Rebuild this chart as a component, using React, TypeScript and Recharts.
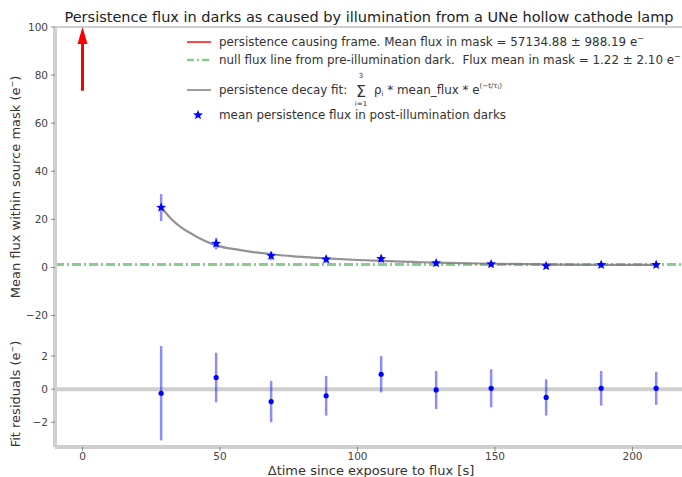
import {
  ComposedChart,
  Line,
  Scatter,
  XAxis,
  YAxis,
  ErrorBar,
  ReferenceLine,
} from "recharts";

// post-illumination darks (seconds since exposure)
const times = [28.6, 48.6, 68.6, 88.6, 108.6, 128.6, 148.6, 168.6, 188.6, 208.6];
const meanFlux = [24.9, 9.9, 4.8, 3.4, 3.6, 1.8, 1.4, 0.6, 1.1, 1.1];
const fluxErr = [5.6, 2.4, 1.8, 1.5, 1.5, 1.3, 1.3, 1.2, 1.2, 1.2];
const residuals = [-0.25, 0.7, -0.75, -0.4, 0.9, -0.05, 0.05, -0.5, 0.05, 0.05];
const residErr = [2.85, 1.5, 1.25, 1.2, 1.1, 1.15, 1.15, 1.1, 1.05, 1.0];

// decay fit curve
const fitTimes = [28.6, 32, 36, 40, 44, 48.6, 56, 62, 68.6, 76, 88.6, 100, 108.6, 120, 128.6, 148.6, 168.6, 188.6, 208.6];
const fitFlux = [25.15, 20.5, 16.6, 13.8, 11.3, 9.2, 7.5, 6.4, 5.55, 4.7, 3.8, 3.1, 2.7, 2.3, 2.0, 1.55, 1.25, 1.1, 1.05];

const nullFlux = 1.22;
const arrowX = 0;
const arrowFrom = 73.5;
const arrowTo = 100;

const xTicks = [0, 50, 100, 150, 200];
const topTicks = [-20, 0, 20, 40, 60, 80, 100];
const bottomTicks = [-2, 0, 2];

const xDomain: [number, number] = [-10, 218];

const pointData = times.map((t, i) => ({ t, flux: meanFlux[i], err: fluxErr[i] }));
const residData = times.map((t, i) => ({ t, res: residuals[i], err: residErr[i] }));
const fitData = fitTimes.map((t, i) => ({ t, fit: fitFlux[i] }));

const FONT = "DejaVu Sans, sans-serif";
const tickStyle = { fill: "#444", fontSize: 10.5, fontFamily: FONT };
const spine = { stroke: "#cfcfcf", strokeWidth: 4 };
const minus = (v: number) => String(v).replace("-", "\u2212");

function Star({ cx, cy }: any) {
  if (cx == null || cy == null) return null;
  const pts: string[] = [];
  for (let k = 0; k < 10; k++) {
    const r = k % 2 === 0 ? 5.2 : 2.2;
    const a = -Math.PI / 2 + (k * Math.PI) / 5;
    pts.push(`${cx + r * Math.cos(a)},${cy + r * Math.sin(a)}`);
  }
  return <polygon points={pts.join(" ")} fill="#0000ff" />;
}

function Dot({ cx, cy }: any) {
  if (cx == null || cy == null) return null;
  return <circle cx={cx} cy={cy} r={2.6} fill="#0000ff" />;
}

function Arrow(props: any) {
  const { x1, y1, x2, y2 } = props;
  const top = Math.min(y1, y2);
  const bottom = Math.max(y1, y2);
  return (
    <g>
      <line x1={x1} y1={bottom} x2={x2} y2={top + 14} stroke="#ff0000" strokeWidth={3} />
      <polygon points={`${x1 - 5},${top + 17} ${x1 + 5},${top + 17} ${x1},${top}`} fill="#ff0000" />
    </g>
  );
}

export default function App() {
  return (
    <div style={{ position: "absolute", left: 0, top: 0, width: 682, height: 477, background: "#fff", fontFamily: FONT }}>
      <div style={{ position: "absolute", left: 0, top: 0 }}>
        <ComposedChart width={682} height={345} margin={{ top: 27, right: 0, bottom: 3, left: 15 }}>
          <XAxis
            type="number"
            dataKey="t"
            domain={xDomain}
            ticks={xTicks}
            allowDataOverflow
            height={0}
            tick={false}
            tickLine={false}
            axisLine={spine}
          />
          <YAxis
            type="number"
            domain={[-31, 100]}
            ticks={topTicks}
            tickFormatter={minus}
            allowDataOverflow
            width={40}
            tick={tickStyle}
            tickSize={4}
            tickMargin={3}
            axisLine={spine}
            tickLine={{ stroke: "#888" }}
          />
          <ReferenceLine y={100} stroke="#cfcfcf" strokeWidth={2} />
          <ReferenceLine
            y={nullFlux}
            stroke="#2ca02c"
            strokeOpacity={0.55}
            strokeWidth={3}
            strokeDasharray="9 3 2 3"
          />
          <ReferenceLine
            segment={[
              { x: arrowX, y: arrowFrom },
              { x: arrowX, y: arrowTo },
            ]}
            shape={<Arrow />}
          />
          <Line
            data={fitData}
            dataKey="fit"
            type="monotone"
            stroke="#777"
            strokeOpacity={0.8}
            strokeWidth={2.2}
            dot={false}
            isAnimationActive={false}
          />
          <Scatter data={pointData} dataKey="flux" shape={<Star />} isAnimationActive={false}>
            <ErrorBar dataKey="err" direction="y" width={0} stroke="#0000ff" strokeOpacity={0.45} strokeWidth={2.5} />
          </Scatter>
        </ComposedChart>
      </div>

      <div style={{ position: "absolute", left: 0, top: 340 }}>
        <ComposedChart width={682} height={137} margin={{ top: 2, right: 0, bottom: 0, left: 15 }}>
          <XAxis
            type="number"
            dataKey="t"
            domain={xDomain}
            ticks={xTicks}
            allowDataOverflow
            height={30}
            tick={tickStyle}
            tickSize={4}
            tickMargin={2}
            axisLine={spine}
            tickLine={{ stroke: "#888" }}
          />
          <YAxis
            type="number"
            domain={[-3.5, 2.85]}
            ticks={bottomTicks}
            tickFormatter={minus}
            allowDataOverflow
            width={40}
            tick={tickStyle}
            tickSize={4}
            tickMargin={3}
            axisLine={spine}
            tickLine={{ stroke: "#888" }}
          />
          <ReferenceLine y={0} stroke="#cfcfcf" strokeWidth={4} />
          <Scatter data={residData} dataKey="res" shape={<Dot />} isAnimationActive={false}>
            <ErrorBar dataKey="err" direction="y" width={0} stroke="#0000ff" strokeOpacity={0.45} strokeWidth={2.5} />
          </Scatter>
        </ComposedChart>
      </div>

      <svg width={682} height={477} style={{ position: "absolute", left: 0, top: 0, pointerEvents: "none" }} fontFamily={FONT}>
        <text x={369} y={22} textAnchor="middle" fontSize={14.5} fill="#222">
          Persistence flux in darks as caused by illumination from a UNe hollow cathode lamp
        </text>
        <text x={371} y={475} textAnchor="middle" fontSize={13} fill="#333">
          Δtime since exposure to flux [s]
        </text>
        <text transform="translate(20,187) rotate(-90)" textAnchor="middle" fontSize={13} fill="#333">
          Mean flux within source mask (e<tspan dy={-5} fontSize={8}>−</tspan><tspan dy={5}>)</tspan>
        </text>
        <text transform="translate(20,394) rotate(-90)" textAnchor="middle" fontSize={13} fill="#333">
          Fit residuals (e<tspan dy={-5} fontSize={8}>−</tspan><tspan dy={5}>)</tspan>
        </text>

        <g fontSize={11.9} fill="#333">
          <line x1={187} y1={42} x2={211} y2={42} stroke="#ff0000" strokeWidth={1.8} strokeOpacity={0.8} />
          <text x={219} y={46}>
            persistence causing frame. Mean flux in mask = 57134.88 ± 988.19 e<tspan dy={-5} fontSize={8}>−</tspan>
          </text>
          <line x1={187} y1={60} x2={211} y2={60} stroke="#2ca02c" strokeOpacity={0.55} strokeWidth={2.5} strokeDasharray="7 3 2 3" />
          <text x={219} y={64}>
            {"null flux line from pre-illumination dark.\u00a0 Flux mean in mask = 1.22 ± 2.10 e"}
            <tspan dy={-5} fontSize={8}>−</tspan>
          </text>
          <line x1={187} y1={90} x2={211} y2={90} stroke="#777" strokeWidth={1.8} strokeOpacity={0.8} />
          <text x={219} y={94}>persistence decay fit:</text>
          <text x={361} y={78} fontSize={7} textAnchor="middle">3</text>
          <text x={361} y={97} fontSize={16} textAnchor="middle">Σ</text>
          <text x={361} y={106} fontSize={7} textAnchor="middle">i=1</text>
          <text x={374} y={94}>
            ρ<tspan dy={2} fontSize={7}>i</tspan><tspan dy={-2}> * mean_flux * e</tspan>
            <tspan dy={-6} fontSize={7}>(−t/τ</tspan><tspan dy={1} fontSize={6}>i</tspan><tspan dy={-1} fontSize={7}>)</tspan>
          </text>
          <Star cx={198} cy={115} />
          <text x={219} y={119}>mean persistence flux in post-illumination darks</text>
        </g>
      </svg>
    </div>
  );
}
